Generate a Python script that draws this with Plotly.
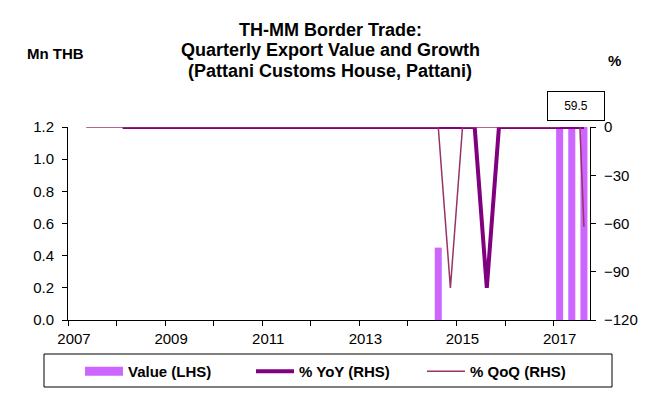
import plotly.graph_objects as go

# Quarterly categories 2007Q1 .. 2017Q3
years = [y for y in range(2007, 2018) for _ in range(4)][:43]
quarters = [q for _ in range(2007, 2018) for q in (1, 2, 3, 4)][:43]
x_pos = [y + (q - 0.5) / 4 for y, q in zip(years, quarters)]

# Export value (Mn THB), LHS
value = [0.0] * 43
value[30] = 0.45   # 2014Q3
value[40] = 26.6   # 2017Q1
value[41] = 59.5   # 2017Q2
value[42] = 22.6   # 2017Q3

# % YoY (from 2008Q1), RHS
yoy = [0.0] * 39
yoy[34 - 4] = -100.0  # 2015Q3

# % QoQ (from 2007Q2), RHS
qoq = [0.0] * 42
qoq[31 - 1] = -100.0  # 2014Q4
qoq[41 - 1] = 123.7   # 2017Q2
qoq[42 - 1] = -62.0   # 2017Q3

title_lines = ["TH-MM Border Trade:", "Quarterly Export Value and Growth",
               "(Pattani Customs House, Pattani)"]

FONT = "Liberation Sans, Arial, sans-serif"
OFF = 8  # page body margin in the browser
W, H = 647, 401
PW, PH = 522, 193
L, T = 68 - OFF, 127 - OFF
R, B = W - L - PW, H - T - PH


def px_x(px):
    return (px - OFF - L) / PW


def px_y(py):
    return (T + PH - (py - OFF)) / PH


fig = go.Figure()
fig.add_trace(go.Bar(x=x_pos, y=value, name="Value (LHS)", marker_color="#CC66FF",
                     marker_line_width=0, yaxis="y", showlegend=False, legendgroup="v"))
# legend swatch for the bars (wide rectangle like the original)
fig.add_trace(go.Scatter(x=[None], y=[None], name="Value (LHS)", mode="lines",
                         line=dict(color="#CC66FF", width=9), legendgroup="v"))
fig.add_trace(go.Scatter(x=x_pos[4:], y=yoy, name="% YoY (RHS)", mode="lines",
                         line=dict(color="#800080", width=4), yaxis="y2"))
fig.add_trace(go.Scatter(x=x_pos[1:], y=qoq, name="% QoQ (RHS)", mode="lines",
                         line=dict(color="#993366", width=1.5), yaxis="y2"))

axis_common = dict(showgrid=False, zeroline=False, showline=True, linecolor="#000000",
                   linewidth=1, ticks="outside", ticklen=5, tickcolor="#000000",
                   tickfont=dict(family=FONT, size=15, color="#000000"))

bold15 = dict(family=FONT, size=15, color="#000000", weight="bold")
bold18 = dict(family=FONT, size=18, color="#000000", weight="bold")

annotations = [
    dict(text=t, xref="paper", yref="paper", x=px_x(330), y=px_y(py),
         xanchor="center", yanchor="middle", showarrow=False, font=bold18)
    for t, py in zip(title_lines, [30, 50, 70.5])
]
annotations += [
    dict(text="Mn THB", xref="paper", yref="paper", x=px_x(55), y=px_y(53),
         xanchor="center", yanchor="middle", showarrow=False, font=bold15),
    dict(text="%", xref="paper", yref="paper", x=px_x(614), y=px_y(60),
         xanchor="center", yanchor="middle", showarrow=False, font=bold15),
    dict(text=f"{value[41]}", x=x_pos[41], xref="x", xshift=4, yref="paper", y=px_y(106),
         xanchor="center", yanchor="middle",
         showarrow=False, bordercolor="#000000", borderwidth=1, bgcolor="white",
         width=52, height=24, borderpad=2,
         font=dict(family=FONT, size=12, color="#000000")),
]

fig.update_layout(
    width=W, height=H,
    margin=dict(l=L, r=R, t=T, b=B, autoexpand=False),
    paper_bgcolor="white", plot_bgcolor="white",
    bargap=0.42,
    showlegend=True,
    xaxis=dict(range=[2007, 2017.75], tickmode="linear", tick0=2007, dtick=2,
               ticklabelshift=6,
               minor=dict(ticks="outside", ticklen=5, dtick=1, tick0=2007, tickcolor="#000000"),
               **axis_common),
    yaxis=dict(range=[0, 1.2], tickmode="linear", tick0=0, dtick=0.2, tickformat=".1f",
               ticklabelstandoff=5, **axis_common),
    yaxis2=dict(range=[-120, 0], tickmode="array", tickvals=[-120, -90, -60, -30, 0],
                ticklabelstandoff=5, overlaying="y", side="right", **axis_common),
    legend=dict(orientation="h", x=px_x(80), xanchor="left", y=px_y(355), yanchor="top",
                borderwidth=0, bgcolor="rgba(0,0,0,0)",
                entrywidth=118, itemwidth=38, font=bold15),
    annotations=annotations,
    shapes=[
        dict(type="rect", xref="paper", yref="paper",
             x0=px_x(4), x1=px_x(652), y0=px_y(410), y1=px_y(2),
             line=dict(color="#000000", width=1), fillcolor="rgba(0,0,0,0)", layer="below"),
        dict(type="rect", xref="paper", yref="paper",
             x0=px_x(44), x1=px_x(612), y0=px_y(387), y1=px_y(354),
             line=dict(color="#000000", width=1), fillcolor="rgba(0,0,0,0)", layer="below"),
    ],
)

fig.write_html("out.html")
